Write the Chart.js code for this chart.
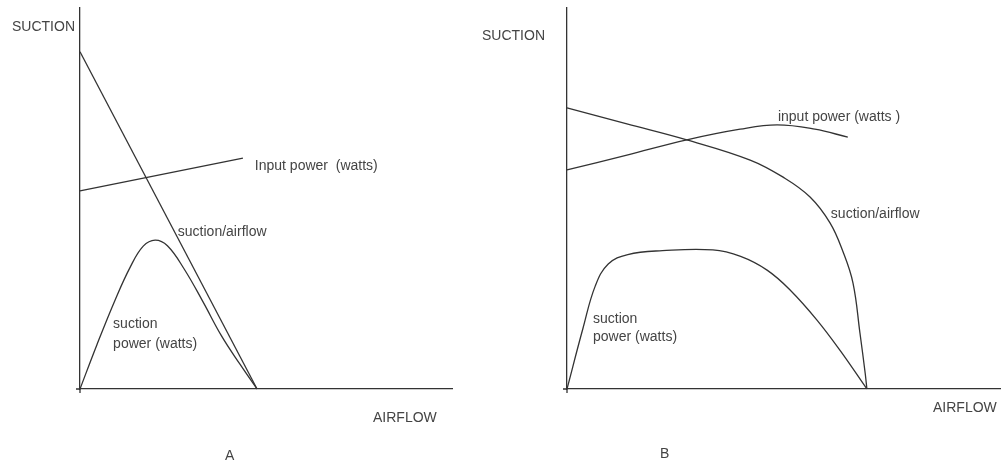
<!DOCTYPE html>
<html>
<head>
<meta charset="utf-8">
<script src="https://cdn.jsdelivr.net/npm/chart.js@4.4.0/dist/chart.umd.min.js"></script>
<style>
  html, body { margin: 0; padding: 0; background: #fff; }
  body { width: 1001px; height: 466px; position: relative; overflow: hidden; }
  .panel { position: absolute; top: 0; height: 466px; }
  #boxA { left: 0; width: 470px; }
  #boxB { left: 470px; width: 531px; }
</style>
</head>
<body>
<div class="panel" id="boxA"><canvas id="chartA"></canvas></div>
<div class="panel" id="boxB"><canvas id="chartB"></canvas></div>
<script>
// values, airflow 0-100 / suction 0-100

// panel A
const airA_suction = [0, 47.6];
const valA_suction = [88.5, 0];
const airA_input = [0, 43.8];
const valA_input = [52.0, 60.6];
const airA_power = [0, 4.5, 9.5, 13.5, 17.0, 20.2, 23.5, 28.0, 33.0, 38.0, 43.0, 47.6];
const valA_power = [0, 11.5, 23.5, 32.0, 37.5, 39.1, 37.6, 31.5, 23.0, 14.0, 6.5, 0];

// panel B
const airB_suction = [0, 13.8, 27.6, 42.2, 49.8, 56.0, 60.6, 63.6, 65.9, 67.5, 68.7, 69.1];
const valB_suction = [73.8, 69.6, 65.4, 60.1, 55.6, 50.4, 43.6, 36.0, 27.8, 14.7, 4.2, 0];
const airB_input = [0, 13.8, 27.6, 39.9, 48.4, 57.1, 64.7];
const valB_input = [57.5, 61.4, 65.4, 68.2, 69.3, 68.2, 66.1];
const airB_power = [0, 3.7, 6.5, 9.5, 14.0, 22.0, 33.6, 40.0, 46.1, 51.4, 57.6, 63.0, 69.1];
const valB_power = [0, 16.0, 27.0, 32.8, 35.3, 36.3, 36.5, 34.8, 31.2, 26.0, 18.1, 10.0, 0];

const axisTitles = ["SUCTION", "AIRFLOW"];
const panelNames = ["A", "B"];

const LINE = "#333";
const TEXT = "#444";
const FONT = "14px 'Liberation Sans', Arial, sans-serif";

function pts(xs, ys) {
  return xs.map((x, i) => ({ x: x, y: ys[i] }));
}

function series(xs, ys, curved) {
  return {
    data: pts(xs, ys),
    showLine: true,
    borderColor: LINE,
    borderWidth: 1.3,
    pointRadius: 0,
    tension: curved ? 0.4 : 0,
    clip: false
  };
}

// draws the axis names, the curve labels and the little cross at the origin
const textPlugin = {
  id: "sketchText",
  afterDraw(chart, args, opts) {
    const ctx = chart.ctx;
    const area = chart.chartArea;
    const xs = chart.scales.x, ys = chart.scales.y;
    ctx.save();
    ctx.strokeStyle = LINE;
    ctx.lineWidth = 1.3;
    ctx.beginPath();
    ctx.moveTo(area.left - 4, area.bottom);
    ctx.lineTo(area.left, area.bottom);
    ctx.moveTo(area.left, area.bottom);
    ctx.lineTo(area.left, area.bottom + 4);
    ctx.stroke();

    ctx.fillStyle = TEXT;
    ctx.font = FONT;
    ctx.textBaseline = "middle";
    ctx.textAlign = "left";
    ctx.fillText(axisTitles[0], area.left + opts.suction[0], area.top + opts.suction[1]);
    ctx.fillText(axisTitles[1], area.left + opts.airflow[0], area.bottom + opts.airflow[1]);
    ctx.fillText(opts.name, area.left + opts.nameAt[0], area.bottom + opts.nameAt[1]);
    opts.labels.forEach(l => {
      ctx.fillText(l.text, xs.getPixelForValue(l.x), ys.getPixelForValue(l.y));
    });
    ctx.restore();
  }
};

function makeChart(id, sets, xMax, textOpts, pad) {
  return new Chart(document.getElementById(id), {
    type: "scatter",
    data: { datasets: sets },
    plugins: [textPlugin],
    options: {
      responsive: true,
      maintainAspectRatio: false,
      animation: false,
      layout: { padding: pad },
      plugins: {
        legend: { display: false },
        tooltip: { enabled: false },
        sketchText: textOpts
      },
      scales: {
        x: {
          type: "linear", min: 0, max: xMax,
          ticks: { display: false },
          grid: { display: false, drawTicks: false },
          border: { display: true, color: LINE, width: 1.3 }
        },
        y: {
          type: "linear", min: 0, max: 100,
          ticks: { display: false },
          grid: { display: false, drawTicks: false },
          border: { display: true, color: LINE, width: 1.3 }
        }
      }
    }
  });
}

makeChart("chartA", [
  series(airA_suction, valA_suction, false),
  series(airA_input, valA_input, false),
  series(airA_power, valA_power, true)
], 100, {
  name: panelNames[0],
  suction: [-68, 19],
  airflow: [293, 29],
  nameAt: [145, 67],
  labels: [
    { text: "Input power  (watts)", x: 47.0, y: 58.5 },
    { text: "suction/airflow", x: 26.3, y: 41.2 },
    { text: "suction", x: 8.9, y: 17.1 },
    { text: "power (watts)", x: 8.9, y: 11.8 }
  ]
}, { left: 80, top: 8, right: 18, bottom: 77 });

makeChart("chartB", [
  series(airB_suction, valB_suction, true),
  series(airB_input, valB_input, true),
  series(airB_power, valB_power, true)
], 100, {
  name: panelNames[1],
  suction: [-85, 28],
  airflow: [366, 19],
  nameAt: [93, 65],
  labels: [
    { text: "input power (watts )", x: 48.6, y: 71.4 },
    { text: "suction/airflow", x: 60.8, y: 45.9 },
    { text: "suction", x: 6.0, y: 18.4 },
    { text: "power (watts)", x: 6.0, y: 13.6 }
  ]
}, { left: 97, top: 8, right: 0, bottom: 77 });
</script>
</body>
</html>
